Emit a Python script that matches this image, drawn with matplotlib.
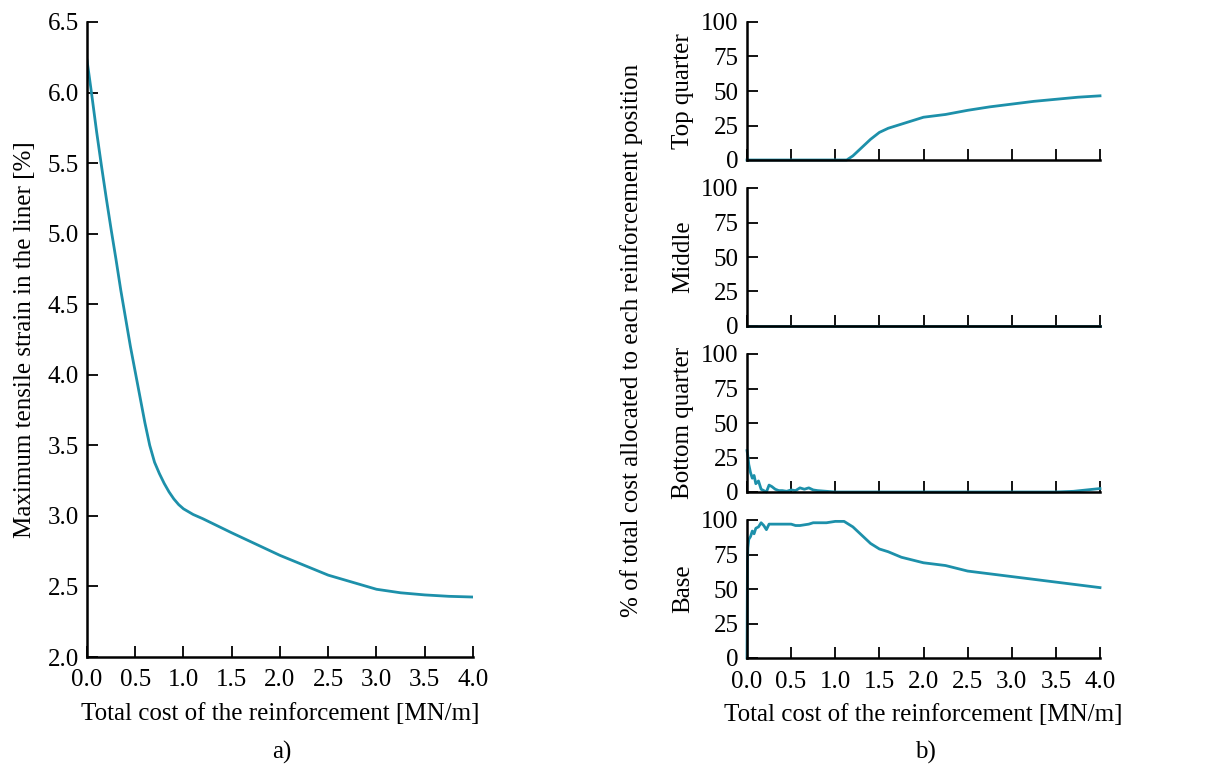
import matplotlib
matplotlib.use("Agg")
import matplotlib.pyplot as plt

plt.rcParams['font.family'] = ['Liberation Serif', 'DejaVu Serif']

# ---- data ----
cost_a = [0.0, 0.05, 0.10, 0.15, 0.20, 0.25, 0.30, 0.35, 0.40, 0.45, 0.50, 0.55, 0.60, 0.65,
          0.70, 0.75, 0.80, 0.85, 0.90, 0.95, 1.00, 1.05, 1.10, 1.20, 1.35, 1.50, 1.75, 2.00,
          2.25, 2.50, 2.75, 3.00, 3.25, 3.50, 3.75, 4.00]
strain = [6.23, 5.98, 5.72, 5.48, 5.25, 5.03, 4.82, 4.60, 4.40, 4.20, 4.02, 3.84, 3.66, 3.50,
          3.38, 3.30, 3.23, 3.17, 3.12, 3.08, 3.05, 3.03, 3.01, 2.98, 2.93, 2.88, 2.80, 2.72,
          2.65, 2.58, 2.53, 2.48, 2.455, 2.44, 2.43, 2.425]

cost_top = [0.0, 0.5, 1.0, 1.13, 1.2, 1.3, 1.4, 1.5, 1.6, 1.75, 1.9, 2.0, 2.25, 2.5, 2.75, 3.0,
            3.25, 3.5, 3.75, 4.0]
top_q = [0, 0, 0, 0, 3, 9, 15, 20, 23, 26, 29, 31, 33, 36, 38.5, 40.5, 42.5, 44, 45.5, 46.5]

cost_mid = [0.0, 4.0]
middle = [0, 0]

cost_bq = [0.0, 0.01, 0.02, 0.04, 0.06, 0.08, 0.10, 0.13, 0.16, 0.19, 0.22, 0.25, 0.28, 0.32,
           0.36, 0.40, 0.45, 0.50, 0.55, 0.60, 0.65, 0.70, 0.75, 0.80, 0.90, 1.00, 1.5, 2.0,
           2.5, 3.0, 3.5, 3.7, 3.85, 4.0]
bottom_q = [30, 26, 20, 14, 10, 12, 6, 8, 2, 1, 0, 5, 4, 2, 1, 1, 0.5, 1.5, 1, 3, 2, 3, 1.5, 1,
            0.5, 0, 0, 0, 0, 0, 0, 0.5, 1.5, 2.5]

cost_base = [0.0, 0.005, 0.01, 0.02, 0.04, 0.06, 0.08, 0.10, 0.13, 0.16, 0.19, 0.22, 0.25,
             0.30, 0.40, 0.50, 0.55, 0.60, 0.70, 0.75, 0.80, 0.90, 1.00, 1.10, 1.20, 1.30,
             1.40, 1.50, 1.60, 1.75, 2.00, 2.25, 2.50, 2.75, 3.00, 3.25, 3.50, 3.75, 4.00]
base = [0, 70, 80, 86, 88, 92, 90, 94, 95, 98, 96, 93, 97, 97, 97, 97, 96, 96, 97, 98, 98, 98,
        99, 99, 95, 89, 83, 79, 77, 73, 69, 67, 63, 61, 59, 57, 55, 53, 51]

panel_names = ["Top quarter", "Middle", "Bottom quarter", "Base"]

xticks = [0.0, 0.5, 1.0, 1.5, 2.0, 2.5, 3.0, 3.5, 4.0]
yticks_a = [2.0, 2.5, 3.0, 3.5, 4.0, 4.5, 5.0, 5.5, 6.0, 6.5]
yticks_b = [0, 25, 50, 75, 100]

color = '#1d90aa'
W, H = 1211, 774
fs = 18

fig = plt.figure(figsize=(W / 100, H / 100), dpi=100)


def style(ax):
    for s in ['top', 'right']:
        ax.spines[s].set_visible(False)
    for s in ['left', 'bottom']:
        ax.spines[s].set_linewidth(1.8)
        ax.spines[s].set_zorder(5)
    ax.tick_params(direction='in', length=8, width=1.3, labelsize=fs)
    ax.tick_params(axis='x', pad=9)
    ax.tick_params(axis='y', pad=6)


def px_axes(x0, y0, x1, y1):
    return fig.add_axes([x0 / W, 1 - y1 / H, (x1 - x0) / W, (y1 - y0) / H])


# ---- panel a ----
ax = px_axes(87, 22, 473, 657)
ax.plot(cost_a, strain, color=color, lw=2)
ax.set_xlim(0, 4.0)
ax.set_ylim(2.0, 6.5)
ax.set_xticks(xticks)
ax.set_xticklabels([f"{v:.1f}" for v in xticks])
ax.set_yticks(yticks_a)
ax.set_yticklabels([f"{v:.1f}" for v in yticks_a])
style(ax)
ax.set_xlabel("Total cost of the reinforcement [MN/m]", fontsize=fs, labelpad=8)
ax.set_ylabel("Maximum tensile strain in the liner [%]", fontsize=fs, labelpad=8)
fig.text(282 / W, 1 - 752 / H, "a)", fontsize=fs, ha='center', va='center')

# ---- panel b ----
series = [(cost_top, top_q), (cost_mid, middle), (cost_bq, bottom_q), (cost_base, base)]
tops = [22, 188, 354, 520]
for i, (name, (xs, ys), t) in enumerate(zip(panel_names, series, tops)):
    a = px_axes(747, t, 1100, t + 138)
    a.plot(xs, ys, color=color, lw=2, zorder=3, clip_on=False)
    a.set_xlim(0, 4.0)
    a.set_ylim(0, 100)
    a.set_xticks(xticks)
    a.set_yticks(yticks_b)
    style(a)
    if i < 3:
        a.tick_params(labelbottom=False)
    else:
        a.set_xticklabels([f"{v:.1f}" for v in xticks])
        a.set_xlabel("Total cost of the reinforcement [MN/m]", fontsize=fs, labelpad=8)
    a.set_ylabel(name, fontsize=fs, labelpad=5)

fig.text(632 / W, 1 - 340 / H, "% of total cost allocated to each reinforcement position",
         fontsize=fs, rotation=90, ha='center', va='center')
fig.text(925 / W, 1 - 752 / H, "b)", fontsize=fs, ha='center', va='center')

fig.savefig("out.png", dpi=100)
